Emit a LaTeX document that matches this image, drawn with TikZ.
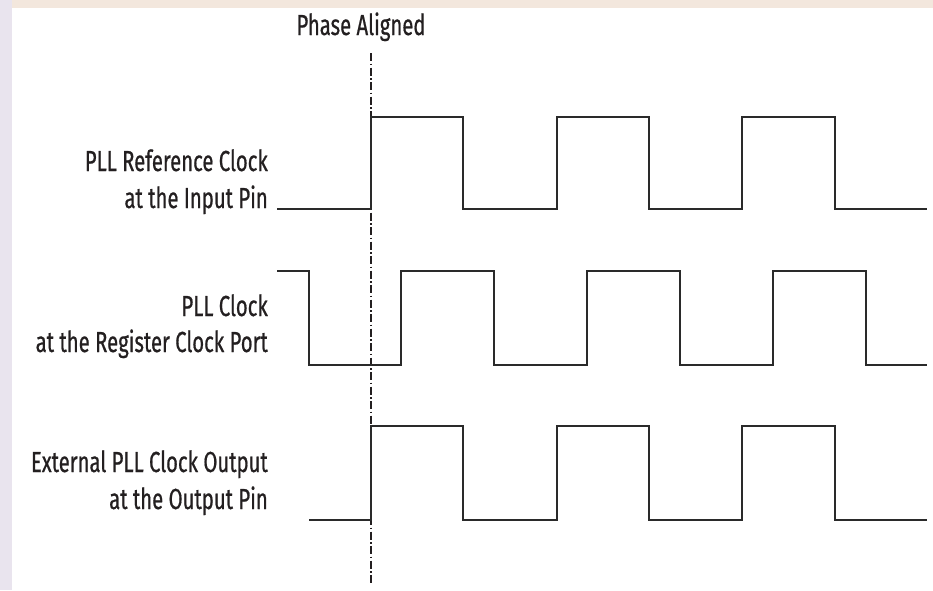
\documentclass[tikz,border=0pt]{standalone}
\usepackage{fontspec}
\setmainfont[FakeStretch=0.70,FakeBold=0.6]{Fira Sans}
\definecolor{txt}{HTML}{231F20}
\definecolor{wave}{HTML}{2A2A2A}
\definecolor{bandl}{HTML}{E9E4EE}
\definecolor{bandt}{HTML}{F3E7DD}
\tikzset{
  lbl/.style={anchor=base east, inner sep=0pt, text=txt, font=\fontsize{29}{37}\selectfont},
  ttl/.style={anchor=base, inner sep=0pt, text=txt, font=\fontsize{29}{37}\selectfont},
  sig/.style={draw=wave, line width=2pt, line join=miter},
  phaseline/.style={draw=txt, line width=1.3pt, dash pattern=on 8pt off 2.5pt on 1.5pt off 2.5pt}
}
\begin{document}
\begin{tikzpicture}[x=1pt,y=-1pt]
\useasboundingbox (0,0) rectangle (933,590);
\fill[white] (0,0) rectangle (933,590);
\fill[bandt] (0,0) rectangle (933,8);
\fill[bandl] (0,0) rectangle (12,590);

\node[ttl] (title) at (361,35) {Phase Aligned};
\draw[phaseline] (371,53) -- (371,584);

% Row 1
\node[lbl] (l1a) at (268,171) {PLL Reference Clock};
\node[lbl] (l1b) at (268,208) {at the Input Pin};
\draw[sig] (277,209) -- (371,209) -- (371,117) -- (463,117) -- (463,209) -- (557,209) -- (557,117) -- (649,117) -- (649,209) -- (742,209) -- (742,117) -- (835,117) -- (835,209) -- (927,209);

% Row 2
\node[lbl] (l2a) at (268,316) {PLL Clock};
\node[lbl] (l2b) at (268,352) {at the Register Clock Port};
\draw[sig] (277,271) -- (309,271) -- (309,365) -- (401,365) -- (401,271) -- (494,271) -- (494,365) -- (587,365) -- (587,271) -- (680,271) -- (680,365) -- (773,365) -- (773,271) -- (866,271) -- (866,365) -- (927,365);

% Row 3
\node[lbl] (l3a) at (268,472) {External PLL Clock Output};
\node[lbl] (l3b) at (268,509) {at the Output Pin};
\draw[sig] (309,520) -- (371,520) -- (371,426) -- (463,426) -- (463,520) -- (557,520) -- (557,426) -- (649,426) -- (649,520) -- (742,520) -- (742,426) -- (835,426) -- (835,520) -- (927,520);
\end{tikzpicture}
\end{document}
